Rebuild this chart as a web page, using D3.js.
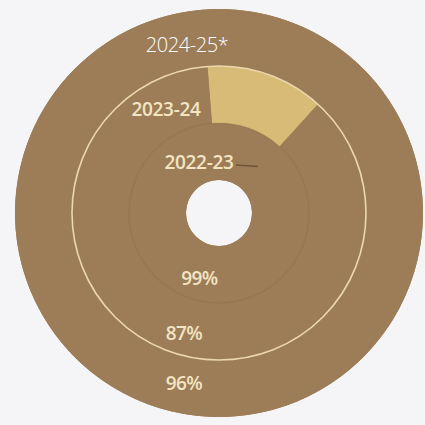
<!DOCTYPE html>
<html>
<head>
<meta charset="utf-8">
<script src="https://cdn.jsdelivr.net/npm/d3@7/dist/d3.min.js"></script>
<style>
  html, body { margin: 0; padding: 0; background: #f5f5f7; }
  svg { display: block; }
</style>
</head>
<body>
<svg width="425" height="425"></svg>
<script>
// rings, inside out
var years = ["2022-23", "2023-24", "2024-25*"];
var shares = [99, 87, 96];
var pctLabels = ["99%", "87%", "96%"];

var svg = d3.select("svg"),
    cx = 219, cy = 213;

var g = svg.append("g").attr("transform", "translate(" + cx + "," + cy + ")");

var brown = "#9d7d57", tan = "#d8bb77";
var restColor = [brown, tan, brown];

var ring = d3.scaleBand().domain(years).range([33, 204]).paddingInner(0);
var mid = function(y) { return ring(y) + ring.bandwidth() / 2; };

var offset = -4.5 * Math.PI / 180;
var pie = d3.pie().sort(null).value(function(d) { return d; })
    .startAngle(offset).endAngle(2 * Math.PI + offset);

// track under the rings so no seams show
g.append("path")
  .attr("d", d3.arc().innerRadius(ring(years[0])).outerRadius(ring.range()[1])
    .startAngle(0).endAngle(2 * Math.PI)())
  .attr("fill", brown);

years.forEach(function(y, i) {
  var arc = d3.arc().innerRadius(ring(y)).outerRadius(ring(y) + ring.bandwidth());
  g.append("g").selectAll("path")
    .data(pie([100 - shares[i], shares[i]]))
    .enter().append("path")
      .attr("d", arc)
      .attr("fill", function(d, j) { return j == 0 ? restColor[i] : brown; });
});

// faint seam between inner rings
g.append("circle")
  .attr("r", ring(years[1]))
  .attr("fill", "none")
  .attr("stroke", "rgba(70,50,25,0.06)")
  .attr("stroke-width", 2);

// light line round the middle ring
g.append("circle")
  .attr("r", ring(years[2]))
  .attr("fill", "none")
  .attr("stroke", "#ecd8ac")
  .attr("stroke-width", 1.6);

// year labels above, percentages below
var yearDx = [-20, -53, -32], yearDy = [17.5, 21.5, 14.5];
var pctDx = [-19.5, -35, -35], pctDy = [10.5, 8.5, 1.5];

g.selectAll(".year")
  .data(years)
  .enter().append("text")
    .attr("class", "year")
    .attr("x", function(d, i) { return yearDx[i]; })
    .attr("y", function(d, i) { return -mid(d) + yearDy[i]; })
    .attr("text-anchor", "middle")
    .style("font-family", "'Open Sans', sans-serif")
    .style("font-size", function(d, i) { return i == 2 ? "20px" : "19px"; })
    .style("font-weight", function(d, i) { return i == 2 ? 300 : 600; })
    .style("letter-spacing", function(d, i) { return i == 2 ? "-0.4px" : "-0.3px"; })
    .style("fill", function(d, i) { return i == 2 ? "#ffffff" : "#f3e5c4"; })
    .text(function(d) { return d; });

// little leader after the inner year
var lead = -mid(years[0]) + yearDy[0] - 4;
g.append("line")
  .attr("x1", yearDx[0] + 37).attr("x2", yearDx[0] + 59)
  .attr("y1", lead).attr("y2", lead + 1.5)
  .attr("stroke", "#5e4329")
  .attr("stroke-opacity", 0.7)
  .attr("stroke-width", 1.3);

g.selectAll(".pct")
  .data(pctLabels)
  .enter().append("text")
    .attr("class", "pct")
    .attr("x", function(d, i) { return pctDx[i]; })
    .attr("y", function(d, i) { return mid(years[i]) + pctDy[i]; })
    .attr("text-anchor", "middle")
    .style("font-family", "'Open Sans', sans-serif")
    .style("font-size", "19px")
    .style("font-weight", 600)
    .style("letter-spacing", "-0.6px")
    .style("fill", "#f3e5c4")
    .text(function(d) { return d; });
</script>
</body>
</html>
